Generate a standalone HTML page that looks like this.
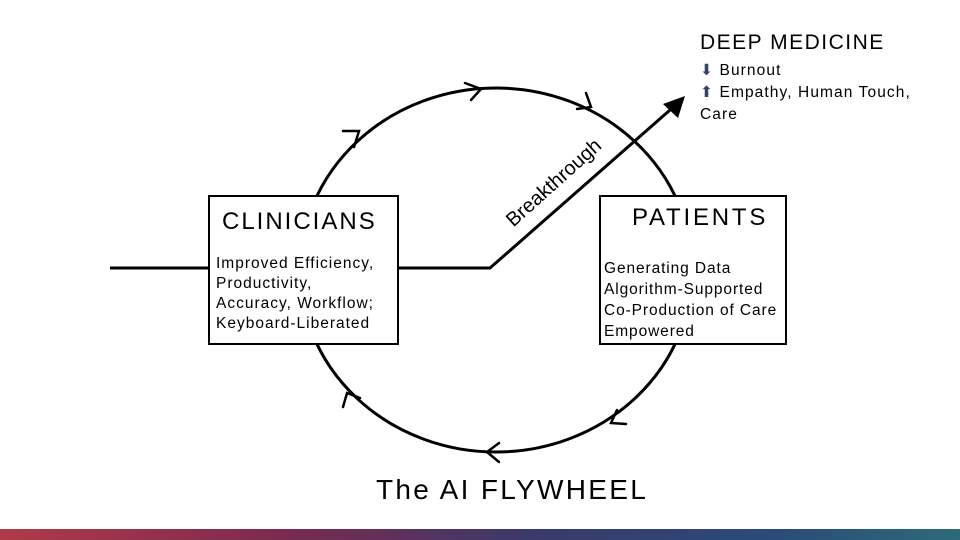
<!DOCTYPE html>
<html><head><meta charset="utf-8"><style>
body{margin:0;width:960px;height:540px;background:#fff;position:relative;overflow:hidden;font-family:"Liberation Sans",Arial,sans-serif;color:#000}
.t{position:absolute;white-space:nowrap}
.box{position:absolute;border:2px solid #000;background:#fff;box-sizing:border-box}
</style></head><body>
<svg width="960" height="540" style="position:absolute;left:0;top:0">
<ellipse cx="496" cy="270" rx="196" ry="182" fill="none" stroke="#000" stroke-width="3"/>
<g fill="none" stroke="#000" stroke-width="2.5" stroke-linecap="round">
<path d="M343 131 L359 131 L354 147"/>
<path d="M465 83 L481 89 L471 100"/>
<path d="M586 93 L591 107 L577 109"/>
<path d="M343 407 L347 393 L360 398"/>
<path d="M499 443 L487 452 L499 462"/>
<path d="M617 410 L611 423 L626 424"/>
</g>
<polyline points="110,268 490,268 670,110" fill="none" stroke="#000" stroke-width="3"/>
<polygon points="685,96 663,104 678,118" fill="#000"/>
<rect x="0" y="529" width="960" height="11" fill="url(#g)"/>
<defs><linearGradient id="g" x1="0" x2="1"><stop offset="0" stop-color="#b03a48"/><stop offset="0.3" stop-color="#7a2a50"/><stop offset="0.55" stop-color="#3a3a6a"/><stop offset="0.8" stop-color="#2b4a78"/><stop offset="1" stop-color="#2e6a78"/></linearGradient></defs>
</svg>
<div class="box" style="left:208px;top:195px;width:191px;height:150px"></div>
<div class="box" style="left:599px;top:195px;width:188px;height:150px"></div>
<div class="t" style="left:222px;top:208px;font-size:24px;letter-spacing:2px">CLINICIANS</div>
<div class="t" style="left:216px;top:254px;font-size:15.5px;line-height:20px;letter-spacing:1px">Improved Efficiency,<br>Productivity,<br>Accuracy, Workflow;<br>Keyboard-Liberated</div>
<div class="t" style="left:632px;top:204px;font-size:24px;letter-spacing:2.8px">PATIENTS</div>
<div class="t" style="left:604px;top:258px;font-size:15.5px;line-height:21px;letter-spacing:0.9px">Generating Data<br>Algorithm-Supported<br>Co-Production of Care<br>Empowered</div>
<div class="t" style="left:700px;top:31px;font-size:21px;letter-spacing:1.5px">DEEP MEDICINE</div>
<div class="t" style="left:700px;top:60px;font-size:15.5px;line-height:22px;letter-spacing:1.1px"><span style="color:#334466">&#x2B07;</span> Burnout<br><span style="color:#334466">&#x2B06;</span> Empathy, Human Touch,<br>Care</div>
<div class="t" style="font-size:20px;transform:rotate(-42deg);transform-origin:0 0;top:215px;left:502px">Breakthrough</div>
<div class="t" style="left:376px;top:474px;font-size:28px;letter-spacing:2.3px">The AI FLYWHEEL</div>
</body></html>
